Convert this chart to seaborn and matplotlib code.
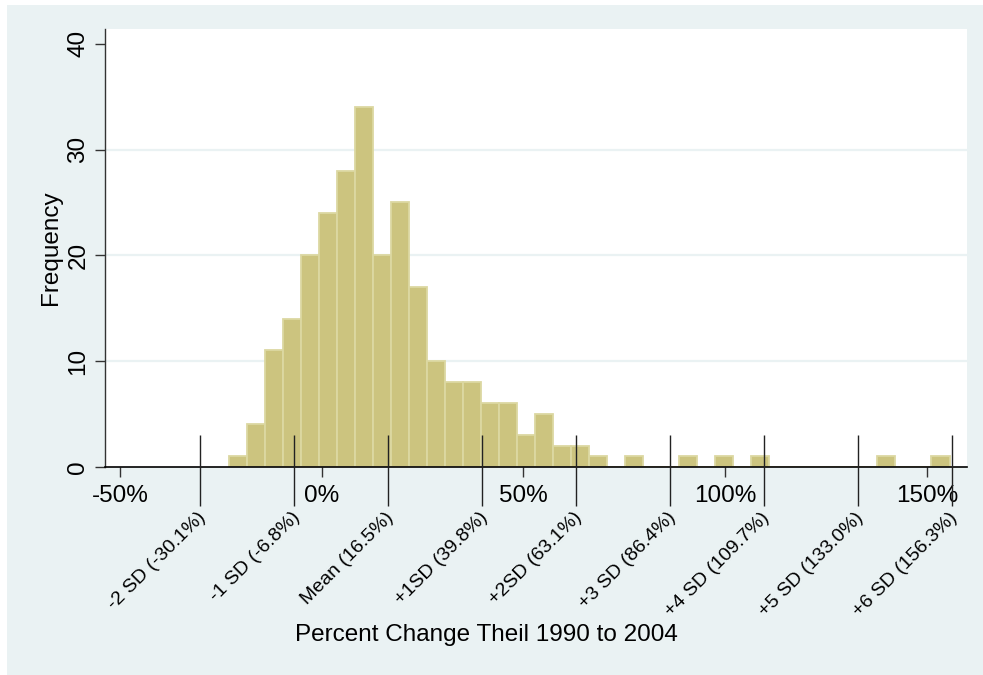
import numpy as np
import pandas as pd
import matplotlib
matplotlib.use("Agg")
import matplotlib.pyplot as plt
import seaborn as sns
from matplotlib.patches import Rectangle

# ---- data ----
bin_start = -23.0
bin_width = 4.466
counts = [1, 4, 11, 14, 20, 24, 28, 34, 20, 25, 17, 10, 8, 8, 6, 6, 3, 5, 2, 2,
          1, 0, 1, 0, 0, 1, 0, 1, 0, 1, 0, 0, 0, 0, 0, 0, 1, 0, 0, 1]
sd_positions = [-30.1, -6.8, 16.5, 39.8, 63.1, 86.4, 109.7, 133.0, 156.3]
sd_labels = ["-2 SD (-30.1%)", "-1 SD (-6.8%)", "Mean (16.5%)", "+1SD (39.8%)",
             "+2SD (63.1%)", "+3 SD (86.4%)", "+4 SD (109.7%)", "+5 SD (133.0%)",
             "+6 SD (156.3%)"]
x_ticks = [-50, 0, 50, 100, 150]
x_ticklabels = ["-50%", "0%", "50%", "100%", "150%"]
y_ticks = [0, 10, 20, 30, 40]
grid_levels = [10, 20, 30]
x_title = "Percent Change Theil 1990 to 2004"
y_title = "Frequency"

n_bins = len(counts)
bin_end = bin_start + bin_width * n_bins
centers = [bin_start + bin_width * (i + 0.5) for i in range(n_bins)]
df = pd.DataFrame({"pct": centers, "n": counts})

sns.set_style("white")
plt.rcParams["font.family"] = ["Liberation Sans", "DejaVu Sans"]
plt.rcParams["text.color"] = "black"
plt.rcParams["xtick.color"] = "black"
plt.rcParams["ytick.color"] = "black"

BG = "#EAF2F3"
FILL = "#CCC47F"
EDGE = "#DCD8A2"

W, H = 983, 675
fig = plt.figure(figsize=(W / 100, H / 100), dpi=100, facecolor="white")
fig.patches.append(Rectangle((7 / W, 0), 1, 1 - 5 / H, transform=fig.transFigure,
                             facecolor=BG, edgecolor="none", zorder=-10))

left, right, top, bottom = 105, 966.7, 29, 466.7
ax = fig.add_axes([left / W, 1 - bottom / H, (right - left) / W, (bottom - top) / H])
ax.set_facecolor("white")

for g in grid_levels:
    ax.axhline(g, color=BG, lw=1.6, zorder=0.5)

sns.histplot(data=df, x="pct", weights="n", bins=n_bins, binrange=(bin_start, bin_end),
             ax=ax, color=FILL, edgecolor=EDGE, linewidth=1.3, alpha=1, zorder=2)

ax.set_xlim(-53.7, 159.9)
ax.set_ylim(0, 41.4)
ax.set_xticks(x_ticks)
ax.set_xticklabels(x_ticklabels)
ax.set_yticks(y_ticks)
ax.set_yticklabels([str(v) for v in y_ticks])
ax.set_xlabel("")
ax.set_ylabel("")

for s in ["top", "right"]:
    ax.spines[s].set_visible(False)
ax.spines["left"].set_color("#333333")
ax.spines["bottom"].set_color("black")
ax.spines["left"].set_linewidth(1.0)
ax.spines["bottom"].set_linewidth(1.2)
ax.spines["bottom"].set_zorder(5)

ax.tick_params(axis="x", direction="out", length=7.2, width=1.0, color="#333333",
               labelsize=17.5, pad=6, bottom=True, labelcolor="black")
ax.tick_params(axis="y", direction="out", length=7.2, width=1.0, color="#333333",
               labelsize=17.5, pad=4, labelrotation=90, left=True, labelcolor="black")
for lbl in ax.get_yticklabels():
    lbl.set_va("center")

# SD reference lines and rotated labels
ax.vlines(sd_positions, -3.7, 3.0, color="#222222", lw=1.0, zorder=6, clip_on=False)
for xp, lab in zip(sd_positions, sd_labels):
    ax.text(xp - 0.8, -4.0, lab, rotation=45, rotation_mode="anchor",
            ha="right", va="top", fontsize=14, color="black")

fig.text(486.7 / W, 1 - 635 / H, x_title, ha="center", va="center", fontsize=17.5)
fig.text(51 / W, 1 - 248 / H, y_title, ha="center", va="center", fontsize=17.5,
         rotation=90)

fig.savefig("out.png", dpi=100, facecolor="white")
